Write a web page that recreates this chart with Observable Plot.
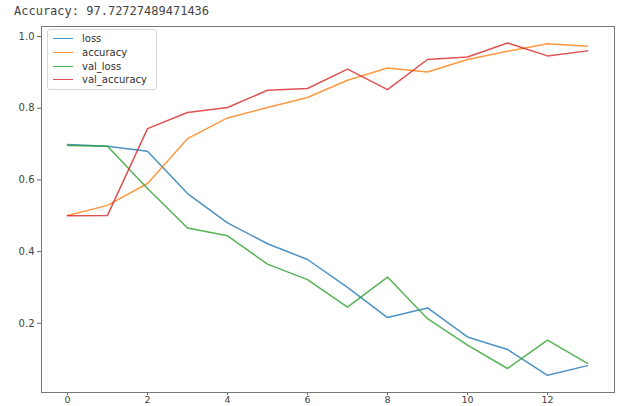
<!DOCTYPE html>
<html>
<head>
<meta charset="utf-8">
<script src="https://cdn.jsdelivr.net/npm/d3@7"></script>
<script src="https://cdn.jsdelivr.net/npm/@observablehq/plot@0.6"></script>
<style>
  html, body { margin: 0; padding: 0; background: #fff; width: 618px; height: 406px; overflow: hidden; }
  #wrap { position: relative; width: 618px; height: 406px; }
  #title { position: absolute; left: 14px; top: 4px; font-family: "DejaVu Sans Mono", monospace; font-size: 12px; color: #444; white-space: pre; }
  #chart { position: absolute; left: 0; top: 22px; }
  #chart svg { overflow: visible; }
  #legend { position: absolute; left: 47px; top: 29px; width: 108px; padding: 2px 0; border: 1px solid #d6d6d6; border-radius: 3px; background: rgba(255,255,255,0.8); font-family: "DejaVu Sans", sans-serif; font-size: 10px; color: #333; }
  .row { display: flex; align-items: center; height: 13.7px; }
  .sw { width: 20px; height: 0; border-top: 1.5px solid; margin: 0 9px 0 5px; opacity: 0.8; }
</style>
</head>
<body>
<div id="wrap">
  <div id="title"></div>
  <div id="chart"></div>
  <div id="legend"></div>
</div>
<script>
const titleText = "Accuracy: 97.72727489471436";
const epochs = [0,1,2,3,4,5,6,7,8,9,10,11,12,13];
const loss        = [0.699,0.694,0.680,0.562,0.480,0.422,0.378,0.300,0.216,0.243,0.162,0.127,0.055,0.082];
const accuracy    = [0.501,0.529,0.590,0.715,0.773,0.802,0.830,0.878,0.912,0.901,0.936,0.959,0.980,0.973];
const valLoss     = [0.696,0.694,0.576,0.466,0.444,0.365,0.322,0.245,0.329,0.213,0.139,0.074,0.153,0.088];
const valAccuracy = [0.500,0.501,0.743,0.788,0.802,0.850,0.855,0.909,0.852,0.936,0.943,0.982,0.946,0.960];
const seriesNames = ["loss","accuracy","val_loss","val_accuracy"];
const seriesColors = ["#1f77b4","#ff7f0e","#2ca02c","#d62728"];
const xTicks = [0,2,4,6,8,10,12];
const yTicks = [0.2,0.4,0.6,0.8,1.0];

const seriesValues = [loss, accuracy, valLoss, valAccuracy];
const rows = [];
seriesNames.forEach((name, i) => {
  epochs.forEach((e, j) => rows.push({epoch: e, value: seriesValues[i][j], series: name}));
});

document.getElementById("title").textContent = titleText;

const chart = Plot.plot({
  width: 618,
  height: 384,
  marginLeft: 41,
  marginRight: 4,
  marginTop: 4,
  marginBottom: 14,
  style: {fontFamily: "DejaVu Sans, sans-serif", fontSize: "10px", color: "#444", background: "transparent"},
  x: {domain: [-0.65, 13.675], label: null},
  y: {domain: [0.007, 1.028], label: null},
  color: {domain: seriesNames, range: seriesColors},
  marks: [
    Plot.axisX({ticks: xTicks, tickSize: 3, tickPadding: 1, label: null, tickFormat: d => String(d), stroke: "#666", fontSize: 9.5}),
    Plot.axisY({ticks: yTicks, tickSize: 4, tickPadding: 3, label: null, tickFormat: d => d.toFixed(1), stroke: "#666"}),
    Plot.line(rows, {x: "epoch", y: "value", stroke: "series", z: "series", strokeWidth: 1.5, strokeOpacity: 0.8}),
    Plot.frame({stroke: "#777", strokeWidth: 1})
  ]
});
document.getElementById("chart").appendChild(chart);

const legend = document.getElementById("legend");
seriesNames.forEach((name, i) => {
  const row = document.createElement("div");
  row.className = "row";
  const sw = document.createElement("span");
  sw.className = "sw";
  sw.style.borderTopColor = seriesColors[i];
  const lab = document.createElement("span");
  lab.textContent = name;
  row.appendChild(sw);
  row.appendChild(lab);
  legend.appendChild(row);
});
</script>
</body>
</html>
